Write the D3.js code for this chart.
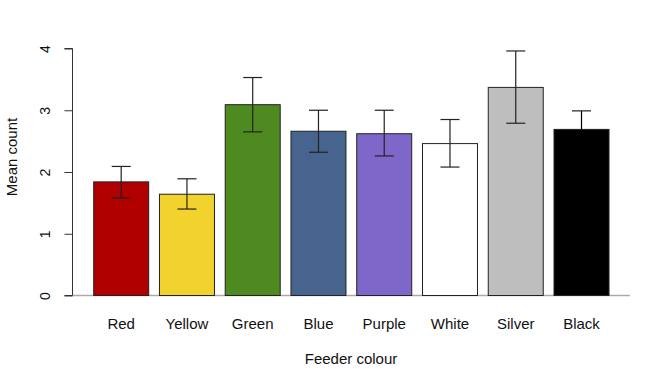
<!DOCTYPE html>
<html><head><meta charset="utf-8">
<script src="https://cdn.jsdelivr.net/npm/d3@7"></script>
<style>body{margin:0;background:#fff}svg{display:block}text{font-family:"Liberation Sans",Arial,sans-serif;fill:#111}</style>
</head><body>
<script>
const categories = ["Red","Yellow","Green","Blue","Purple","White","Silver","Black"];
const means = [1.84, 1.64, 3.09, 2.66, 2.62, 2.46, 3.37, 2.69];
const errLow = [1.58, 1.40, 2.65, 2.32, 2.26, 2.08, 2.79, 2.39];
const errHigh = [2.09, 1.89, 3.53, 3.00, 3.00, 2.85, 3.96, 2.99];
const fills = ["#b00000","#f2d32e","#4f8a21","#47648e","#7f66c9","#ffffff","#bebebe","#000000"];
const yTicks = [0,1,2,3,4];

const W = 647, H = 369;
const svg = d3.select("body").append("svg").attr("width", W).attr("height", H);

const x = d3.scaleBand().domain(categories).range([93.7, 609]).paddingInner(0.1637).paddingOuter(0);
const y = d3.scaleLinear().domain([0,4]).range([295.5, 48.5]);

// baseline
svg.append("line").attr("x1", 72.5).attr("x2", 630).attr("y1", y(0)).attr("y2", y(0))
  .attr("stroke", "#aaa").attr("stroke-width", 1.5);

// bars
svg.selectAll("rect.bar").data(categories).join("rect")
  .attr("x", d => x(d)).attr("width", x.bandwidth())
  .attr("y", (d,i) => y(means[i])).attr("height", (d,i) => y(0) - y(means[i]))
  .attr("fill", (d,i) => fills[i]).attr("stroke", "#222").attr("stroke-width", 1);

// error bars
const cap = 9.5;
const eb = svg.append("g").attr("stroke-width", 1.2);
categories.forEach((c,i) => {
  const cx = x(c) + x.bandwidth()/2;
  const col = fills[i] === "#000000" ? "#000" : "#222";
  eb.append("line").attr("stroke", col).attr("x1", cx).attr("x2", cx).attr("y1", y(errLow[i])).attr("y2", y(errHigh[i]));
  eb.append("line").attr("stroke", col).attr("x1", cx-cap).attr("x2", cx+cap).attr("y1", y(errLow[i])).attr("y2", y(errLow[i]));
  eb.append("line").attr("stroke", "#222").attr("x1", cx-cap).attr("x2", cx+cap).attr("y1", y(errHigh[i])).attr("y2", y(errHigh[i]));
});

// y axis
const ya = svg.append("g").attr("transform", "translate(72.5,0)")
  .call(d3.axisLeft(y).tickValues(yTicks).tickSize(8).tickFormat(d3.format("d")));
ya.select(".domain").attr("stroke", "#333").attr("d", `M-8,${y(4)}H0V${y(0)}H-8`);
ya.selectAll(".tick line").attr("stroke", "#333");
ya.selectAll(".tick text").attr("font-size", 14).attr("fill", "#111")
  .attr("font-family", "Liberation Sans, Arial, sans-serif")
  .attr("transform", "rotate(-90)").attr("x", 0).attr("y", -27).attr("dy", "0.35em")
  .attr("text-anchor", "middle");

// category labels
svg.selectAll("text.cat").data(categories).join("text")
  .attr("x", d => x(d) + x.bandwidth()/2).attr("y", 329)
  .attr("text-anchor", "middle").attr("font-size", 15).text(d => d);

svg.append("text").attr("x", 351).attr("y", 364).attr("text-anchor", "middle")
  .attr("font-size", 15).text("Feeder colour");
svg.append("text").attr("transform", "translate(17,157) rotate(-90)")
  .attr("text-anchor", "middle").attr("font-size", 15).text("Mean count");
</script>
</body></html>
